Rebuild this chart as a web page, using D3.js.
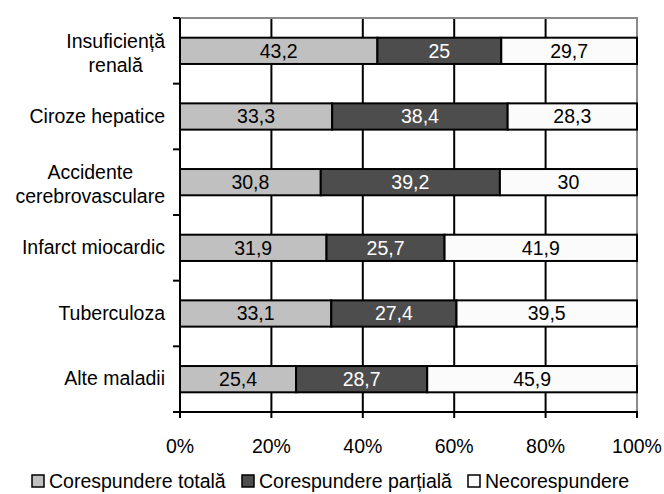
<!DOCTYPE html>
<html>
<head>
<meta charset="utf-8">
<script src="https://cdn.jsdelivr.net/npm/d3@7/dist/d3.min.js"></script>
<style>
  html, body { margin: 0; padding: 0; background: #fff; }
  svg { display: block; font-family: "Liberation Sans", Arial, sans-serif; }
</style>
</head>
<body>
<svg id="chart" width="664" height="494"></svg>
<script>
// ---- data ----
const categories = ["Insuficiență\nrenală", "Ciroze hepatice", "Accidente\ncerebrovasculare", "Infarct miocardic", "Tuberculoza", "Alte maladii"];
const seriesNames = ["Corespundere totală", "Corespundere parțială", "Necorespundere"];
const totala    = [43.2, 33.3, 30.8, 31.9, 33.1, 25.4];
const partiala  = [27.1, 38.4, 39.2, 25.7, 27.4, 28.7];
const necoresp  = [29.7, 28.3, 30.0, 41.9, 39.5, 45.9];
// value labels as printed on the bars
const totalaLabels   = ["43,2", "33,3", "30,8", "31,9", "33,1", "25,4"];
const partialaLabels = ["25", "38,4", "39,2", "25,7", "27,4", "28,7"];
const necorespLabels = ["29,7", "28,3", "30", "41,9", "39,5", "45,9"];
const xTicks = [0, 0.2, 0.4, 0.6, 0.8, 1];
const xTickLabels = ["0%", "20%", "40%", "60%", "80%", "100%"];

const colors = ["#c0c0c0", "#4d4d4d", "#fbfbfb"];
const textColors = ["#000", "#fff", "#000"];
const seriesLabels = [totalaLabels, partialaLabels, necorespLabels];

const rows = categories.map((c, i) => ({ cat: c, s0: totala[i], s1: partiala[i], s2: necoresp[i] }));
const stack = d3.stack().keys(["s0", "s1", "s2"]).offset(d3.stackOffsetExpand);
const stacked = stack(rows);

const svg = d3.select("#chart");
const FS = 19.5;
const pLeft = 180, pRight = 637, pTop = 18, pBottom = 412;

const x = d3.scaleLinear().domain([0, 1]).range([pLeft, pRight]);
const y = d3.scaleBand().domain(categories).range([pTop, pBottom]).paddingInner(0.6).paddingOuter(0.3);
const step = y.step();

// vertical gridlines
svg.append("g").selectAll("line").data(xTicks.slice(1, -1)).join("line")
  .attr("x1", d => x(d)).attr("x2", d => x(d))
  .attr("y1", pTop).attr("y2", pBottom)
  .attr("stroke", "#000").attr("stroke-width", 2);

// plot border top & right (gray)
svg.append("path")
  .attr("d", `M${pLeft},${pTop}H${pRight}V${pBottom}`)
  .attr("fill", "none").attr("stroke", "#8a8a8a").attr("stroke-width", 2);

// bars
const gBars = svg.append("g");
stacked.forEach((layer, si) => {
  gBars.append("g").selectAll("rect").data(layer).join("rect")
    .attr("x", d => x(d[0]))
    .attr("width", d => x(d[1]) - x(d[0]))
    .attr("y", d => y(d.data.cat))
    .attr("height", y.bandwidth())
    .attr("fill", colors[si])
    .attr("stroke", "#000").attr("stroke-width", 2);
});
stacked.forEach((layer, si) => {
  gBars.append("g").selectAll("text").data(layer).join("text")
    .attr("x", d => (x(d[0]) + x(d[1])) / 2)
    .attr("y", d => y(d.data.cat) + y.bandwidth() / 2)
    .attr("dy", "0.35em")
    .attr("text-anchor", "middle")
    .attr("font-size", FS)
    .attr("fill", textColors[si])
    .text((d, i) => seriesLabels[si][i]);
});

// axes lines
svg.append("line").attr("x1", pLeft).attr("x2", pLeft).attr("y1", pTop).attr("y2", pBottom + 6)
  .attr("stroke", "#000").attr("stroke-width", 2);
svg.append("line").attr("x1", pLeft - 7).attr("x2", pRight + 1).attr("y1", pBottom).attr("y2", pBottom)
  .attr("stroke", "#000").attr("stroke-width", 2);

// y ticks at category boundaries
const bounds = d3.range(categories.length + 1).map(i => pTop + i * step);
svg.append("g").selectAll("line").data(bounds).join("line")
  .attr("x1", pLeft - 7).attr("x2", pLeft)
  .attr("y1", d => d).attr("y2", d => d)
  .attr("stroke", "#000").attr("stroke-width", 2);

// x ticks
svg.append("g").selectAll("line").data(xTicks).join("line")
  .attr("x1", d => x(d)).attr("x2", d => x(d))
  .attr("y1", pBottom).attr("y2", pBottom + 6)
  .attr("stroke", "#000").attr("stroke-width", 2);
svg.append("g").selectAll("text").data(xTicks).join("text")
  .attr("x", d => x(d)).attr("y", 453)
  .attr("text-anchor", "middle").attr("font-size", FS).attr("fill", "#000")
  .text((d, i) => xTickLabels[i]);

// category labels
const labelRight = 165;
categories.forEach(c => {
  const lines = c.split("\n");
  const cy = y(c) + y.bandwidth() / 2;
  const t = svg.append("text").attr("font-size", FS).attr("fill", "#000").attr("text-anchor", "middle");
  if (lines.length === 1) {
    t.attr("x", labelRight).attr("y", cy).attr("dy", "0.32em").attr("text-anchor", "end").text(lines[0]);
  } else {
    const spans = lines.map((l, i) => t.append("tspan").attr("y", cy - 3 + i * 24).text(l));
    const maxW = d3.max(spans, s => s.node().getComputedTextLength());
    spans.forEach(s => s.attr("x", labelRight - maxW / 2));
  }
});

// legend
const legendX = [32, 242, 468];
const lg = svg.append("g");
seriesNames.forEach((n, i) => {
  lg.append("rect").attr("x", legendX[i]).attr("y", 475).attr("width", 12).attr("height", 12)
    .attr("fill", colors[i]).attr("stroke", "#000").attr("stroke-width", 1.5);
  lg.append("text").attr("x", legendX[i] + 17).attr("y", 488)
    .attr("font-size", FS).attr("fill", "#000").text(n);
});
</script>
</body>
</html>
